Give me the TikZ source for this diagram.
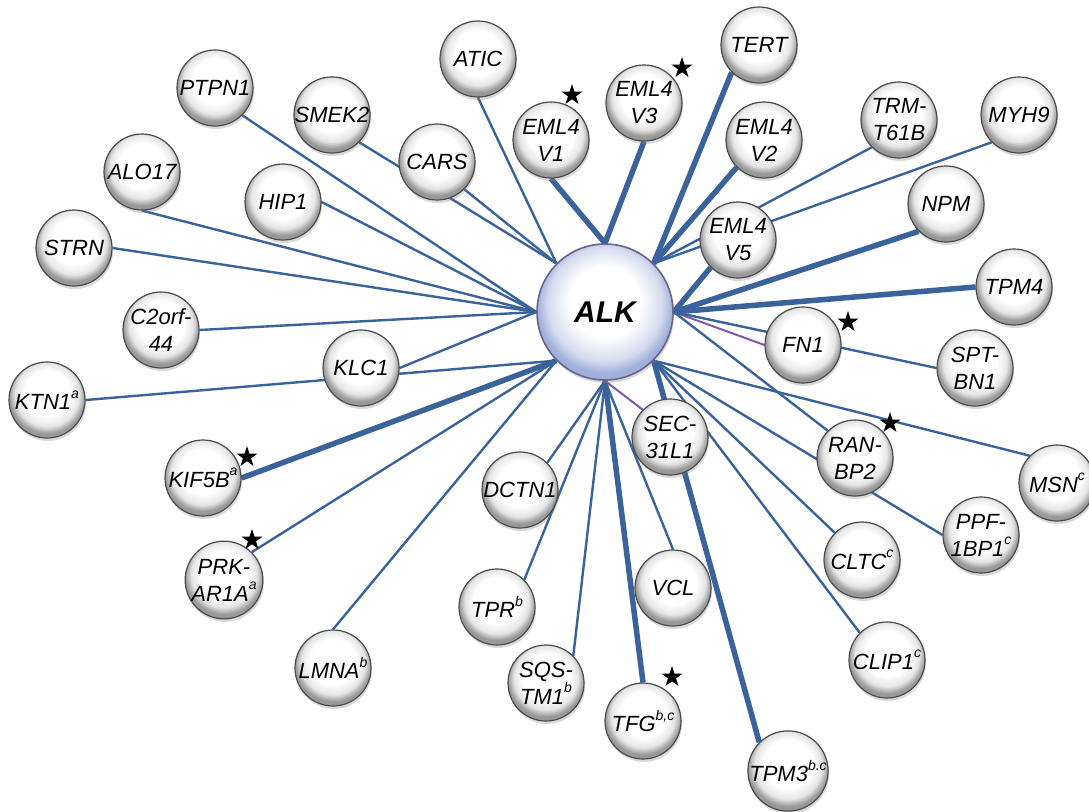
\documentclass[tikz,border=0pt]{standalone}
\usepackage{fontspec}
\setmainfont{Liberation Sans}
\usetikzlibrary{shapes.geometric,shadows,backgrounds}
\definecolor{edgeblue}{RGB}{58,99,155}
\definecolor{edgepurple}{RGB}{128,88,168}
\definecolor{alkblue}{RGB}{160,176,218}
\definecolor{alkrim}{RGB}{105,100,140}
\pgfdeclareradialshading{glossy}{\pgfqpoint{0bp}{6bp}}{color(0bp)=(white); color(15bp)=(white); color(21bp)=(black!10); color(25bp)=(black!40); color(50bp)=(black!40)}
\pgfdeclareradialshading{alkshade}{\pgfqpoint{0bp}{5bp}}{color(0bp)=(white); color(13bp)=(white); color(21bp)=(alkblue!45); color(25bp)=(alkblue); color(50bp)=(alkblue)}
\newcommand{\sps}[1]{\raisebox{0.52em}{\fontsize{14}{14}\selectfont #1}}
\begin{document}
\begin{tikzpicture}[x=1pt,y=-1pt,
  gene/.style={circle, draw=black!70, line width=1.2pt, shade, shading=glossy,
    minimum size=76pt, inner sep=0pt, align=center,
    font=\fontsize{22}{27}\selectfont\itshape,
    drop shadow={shadow xshift=1pt, shadow yshift=-3pt, opacity=0.3}},
  hub/.style={circle, draw=alkrim, line width=1.6pt, shade, shading=alkshade,
    minimum size=136pt, inner sep=0pt,
    font=\fontsize{30}{30}\selectfont\bfseries\itshape,
    drop shadow={shadow xshift=1pt, shadow yshift=-3pt, opacity=0.3}},
  lnk/.style={draw=edgeblue, line width=2.4pt},
  thk/.style={draw=edgeblue, line width=5.5pt},
  pur/.style={draw=edgepurple, line width=2pt},
  starmark/.style={star, star points=5, star point ratio=2.6, fill=black,
    minimum size=22pt, inner sep=0pt}]
\useasboundingbox (0,0) rectangle (1089,811);
\node[hub] (ALK) at (605,312) {ALK};
\node[gene] (ATIC) at (478,59) {ATIC};
\node[gene] (PTPN1) at (215,88) {PTPN1};
\node[gene] (SMEK2) at (332,115) {SMEK2};
\node[gene] (CARS) at (437,162) {CARS};
\node[gene] (ALO17) at (142,172) {ALO17};
\node[gene] (HIP1) at (283,202) {HIP1};
\node[gene] (STRN) at (74,248) {STRN};
\node[gene] (C2orf44) at (161,330) {C2orf-\\44};
\node[gene] (KLC1) at (361,368) {KLC1};
\node[gene] (KTN1) at (47,400) {KTN1\sps{a}};
\node[gene] (KIF5B) at (203,478) {KIF5B\sps{a}};
\node[gene] (PRKAR1A) at (224,580) {PRK-\\AR1A\sps{a}};
\node[gene] (LMNA) at (333,668) {LMNA\sps{b}};
\node[gene] (DCTN1) at (520,490) {DCTN1};
\node[gene] (TPR) at (497,607) {TPR\sps{b}};
\node[gene] (SQSTM1) at (546,683) {SQS-\\TM1\sps{b}};
\node[gene] (TFG) at (643,721) {TFG\sps{b,c}};
\node[gene] (VCL) at (673,588) {VCL};
\node[gene] (SEC31L1) at (670,437) {SEC-\\31L1};
\node[gene] (TPM3) at (788,771) {TPM3\sps{b.c}};
\node[gene] (CLIP1) at (887,660) {CLIP1\sps{c}};
\node[gene] (CLTC) at (862,560) {CLTC\sps{c}};
\node[gene] (PPFIBP1) at (981,535) {PPF-\\1BP1\sps{c}};
\node[gene] (RANBP2) at (855,458) {RAN-\\BP2};
\node[gene] (MSN) at (1057,483) {MSN\sps{c}};
\node[gene] (SPTBN1) at (975,368) {SPT-\\BN1};
\node[gene] (FN1) at (803,345) {FN1};
\node[gene] (TPM4) at (1014,287) {TPM4};
\node[gene] (NPM) at (946,204) {NPM};
\node[gene] (MYH9) at (1019,115) {MYH9};
\node[gene] (TRMT61B) at (899,120) {TRM-\\T61B};
\node[gene] (EMLV2) at (764,140) {EML4\\V2};
\node[gene] (TERT) at (759,45) {TERT};
\node[gene] (EMLV3) at (644,103) {EML4\\V3};
\node[gene] (EMLV1) at (551,140) {EML4\\V1};
\node[gene] (EMLV5) at (738,240) {EML4\\V5};
% stars
\node[starmark] (st1) at (572,95) {};
\node[starmark] (st2) at (682,68) {};
\node[starmark] (st3) at (848,322) {};
\node[starmark] (st4) at (890,423) {};
\node[starmark] (st5) at (247,457) {};
\node[starmark] (st6) at (252,540) {};
\node[starmark] (st7) at (672,677) {};
\begin{scope}[on background layer]
% west
\draw[lnk] (ALK.west) -- (PTPN1.south east);
\draw[lnk] (ALK.west) -- (ALO17.south);
\draw[lnk] (ALK.west) -- (STRN.east);
\draw[lnk] (ALK.west) -- (C2orf44.east);
\draw[lnk] (ALK.west) -- (HIP1.east);
\draw[lnk] (ALK.west) -- (KLC1.east);
% north west
\draw[lnk] (ALK.north west) -- (ATIC.south);
\draw[lnk] (ALK.north west) -- (CARS.south east);
\draw[lnk] (ALK.north west) -- (SMEK2.south east);
% north
\draw[thk] (ALK.north) -- (EMLV1.south);
\draw[thk] (ALK.north) -- (EMLV3.south);
% north east
\draw[thk] (ALK.north east) -- (TERT.south west);
\draw[thk] (ALK.north east) -- (EMLV2.south west);
\draw[lnk] (ALK.north east) -- (TRMT61B.south west);
\draw[lnk] (ALK.north east) -- (MYH9.south west);
% east
\draw[thk] (ALK.east) -- (EMLV5.south west);
\draw[thk] (ALK.east) -- (NPM.south west);
\draw[thk] (ALK.east) -- (TPM4.west);
\draw[pur] (ALK.east) -- (FN1.west);
\draw[lnk] (ALK.east) -- (SPTBN1.west);
\draw[lnk] (ALK.east) -- (RANBP2.north west);
% south east
\draw[lnk] (ALK.south east) -- (PPFIBP1.west);
\draw[lnk] (ALK.south east) -- (MSN.north west);
\draw[lnk] (ALK.south east) -- (CLTC.north west);
\draw[lnk] (ALK.south east) -- (CLIP1.north west);
\draw[thk] (ALK.south east) -- (TPM3.north west);
% south
\draw[lnk] (ALK.south) -- (DCTN1.north east);
\draw[lnk] (ALK.south) -- (TPR.north east);
\draw[lnk] (ALK.south) -- (SQSTM1.north east);
\draw[thk] (ALK.south) -- (TFG.north);
\draw[lnk] (ALK.south) -- (VCL.north);
\draw[pur] (ALK.south) -- (SEC31L1.north west);
% south west
\draw[lnk] (ALK.south west) -- (KTN1.east);
\draw[thk] (ALK.south west) -- (KIF5B.east);
\draw[lnk] (ALK.south west) -- (PRKAR1A.north east);
\draw[lnk] (ALK.south west) -- (LMNA.north);
\end{scope}
\end{tikzpicture}
\end{document}
